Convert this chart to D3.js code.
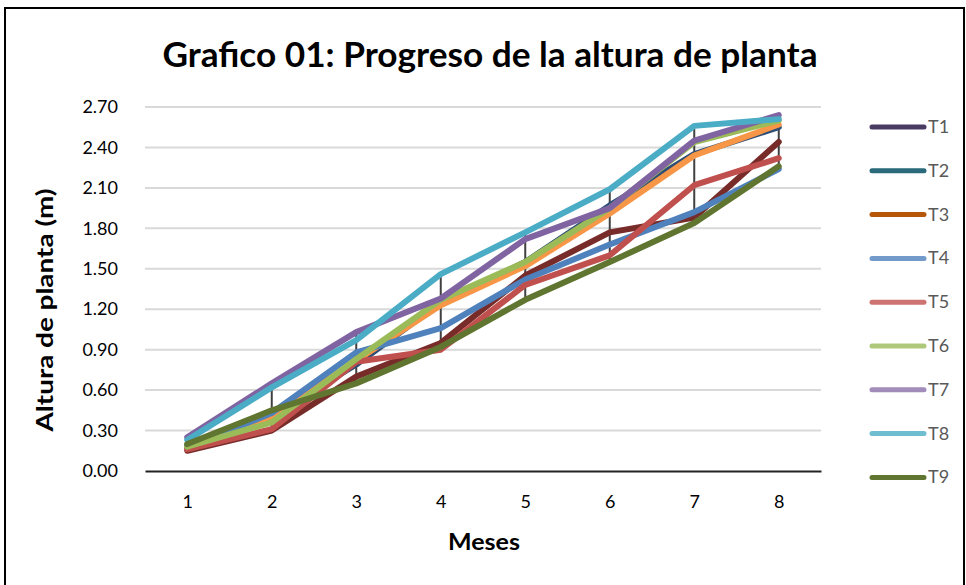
<!DOCTYPE html>
<html>
<head>
    <meta charset="utf-8">
    <script src="https://d3js.org/d3.v7.min.js"></script>
    <title>Grafico 01</title>
    <style>
        body { margin: 0; background: #fff; }
        text { font-family: Lato, "Open Sans", sans-serif; }
    </style>
</head>
<body>
<svg id="chart"></svg>
<script>
    const meses = [1, 2, 3, 4, 5, 6, 7, 8];
    const yTicks = [0, 0.3, 0.6, 0.9, 1.2, 1.5, 1.8, 2.1, 2.4, 2.7];

    const T1 = [0.15, 0.30, 0.70, 0.95, 1.45, 1.77, 1.88, 2.44];
    const T2 = [0.19, 0.41, 0.79, 1.25, 1.55, 1.97, 2.35, 2.55];
    const T3 = [0.17, 0.40, 0.82, 1.23, 1.52, 1.91, 2.34, 2.57];
    const T4 = [0.17, 0.43, 0.88, 1.06, 1.42, 1.68, 1.92, 2.24];
    const T5 = [0.16, 0.31, 0.81, 0.90, 1.38, 1.60, 2.12, 2.32];
    const T6 = [0.18, 0.36, 0.83, 1.27, 1.55, 1.95, 2.44, 2.60];
    const T7 = [0.25, 0.65, 1.03, 1.28, 1.72, 1.95, 2.45, 2.64];
    const T8 = [0.23, 0.62, 0.97, 1.46, 1.77, 2.09, 2.56, 2.61];
    const T9 = [0.20, 0.45, 0.65, 0.92, 1.27, 1.55, 1.84, 2.26];

    const nombres = ["T1", "T2", "T3", "T4", "T5", "T6", "T7", "T8", "T9"];
    const lineColors = ["#772C2A", "#2C4D75", "#F79646", "#4F81BD", "#C0504D", "#9BBB59", "#8064A2", "#4BACC6", "#5F7530"];
    const legendColors = ["#4A3B63", "#2A6A7A", "#B65708", "#729ACA", "#CD7371", "#AFC97A", "#A28CB9", "#6FBDD1", "#5F7530"];

    const series = [T1, T2, T3, T4, T5, T6, T7, T8, T9];

    const width = 966, height = 585;
    const svg = d3.select("#chart").attr("width", width).attr("height", height);

    // marco
    svg.append("rect")
        .attr("x", 5).attr("y", 8)
        .attr("width", 959).attr("height", 600)
        .attr("fill", "none").attr("stroke", "#000").attr("stroke-width", 2);

    const plot = { left: 145, right: 821, top: 107, bottom: 471 };

    const x = d3.scalePoint().domain(meses).range([plot.left, plot.right]).padding(0.5);
    const y = d3.scaleLinear().domain([0, 2.7]).range([plot.bottom, plot.top]);

    // rejilla
    svg.append("g").selectAll("line")
        .data(yTicks.slice(1))
        .enter().append("line")
        .attr("x1", plot.left).attr("x2", plot.right)
        .attr("y1", d => y(d)).attr("y2", d => y(d))
        .attr("stroke", "#D9D9D9").attr("stroke-width", 2);

    // eje y
    const yAxis = svg.append("g")
        .attr("transform", "translate(" + plot.left + ",0)")
        .call(d3.axisLeft(y).tickValues(yTicks).tickFormat(d3.format(".2f")).tickSize(0).tickPadding(27));
    yAxis.select(".domain").remove();
    yAxis.selectAll("text").attr("font-size", 18).attr("fill", "#000")
        .style("font-family", "Lato, sans-serif");

    // eje x
    const xAxis = svg.append("g")
        .attr("transform", "translate(0," + plot.bottom + ")")
        .call(d3.axisBottom(x).tickSize(0).tickPadding(24));
    xAxis.select(".domain").attr("stroke", "#222").attr("stroke-width", 2);
    xAxis.selectAll("text").attr("font-size", 18).attr("fill", "#000")
        .style("font-family", "Lato, sans-serif");

    // lineas alto-bajo
    svg.append("g").selectAll("line")
        .data(meses.map((m, i) => ({ m: m, vals: series.map(s => s[i]) })))
        .enter().append("line")
        .attr("x1", d => x(d.m)).attr("x2", d => x(d.m))
        .attr("y1", d => y(d3.max(d.vals))).attr("y2", d => y(d3.min(d.vals)))
        .attr("stroke", "#404040").attr("stroke-width", 2);

    // series
    const line = d3.line().x((d, i) => x(meses[i])).y(d => y(d));
    svg.append("g").selectAll("path")
        .data(series)
        .enter().append("path")
        .attr("d", line)
        .attr("fill", "none")
        .attr("stroke", (d, i) => lineColors[i])
        .attr("stroke-width", 6)
        .attr("stroke-linejoin", "round")
        .attr("stroke-linecap", "round");

    // titulo
    svg.append("text")
        .attr("x", 490).attr("y", 67)
        .attr("text-anchor", "middle")
        .attr("font-size", 35).attr("font-weight", "bold")
        .attr("textLength", 655).attr("lengthAdjust", "spacingAndGlyphs")
        .text("Grafico 01: Progreso de la altura de planta");

    svg.append("text")
        .attr("transform", "translate(53,310) rotate(-90)")
        .attr("text-anchor", "middle")
        .attr("font-size", 23).attr("font-weight", "bold")
        .attr("textLength", 243).attr("lengthAdjust", "spacingAndGlyphs")
        .text("Altura de planta (m)");

    svg.append("text")
        .attr("x", 484).attr("y", 550)
        .attr("text-anchor", "middle")
        .attr("font-size", 22).attr("font-weight", "bold")
        .attr("textLength", 72).attr("lengthAdjust", "spacingAndGlyphs")
        .text("Meses");

    // leyenda
    const legend = svg.append("g").selectAll("g")
        .data(nombres)
        .enter().append("g")
        .attr("transform", (d, i) => "translate(870," + (127 + i * 43.8) + ")");
    legend.append("line")
        .attr("x1", 2).attr("x2", 54)
        .attr("stroke", (d, i) => legendColors[i])
        .attr("stroke-width", 5).attr("stroke-linecap", "round");
    legend.append("text")
        .attr("x", 58).attr("y", 6)
        .attr("font-size", 18).attr("fill", "#595959")
        .text(d => d);
</script>
</body>
</html>
